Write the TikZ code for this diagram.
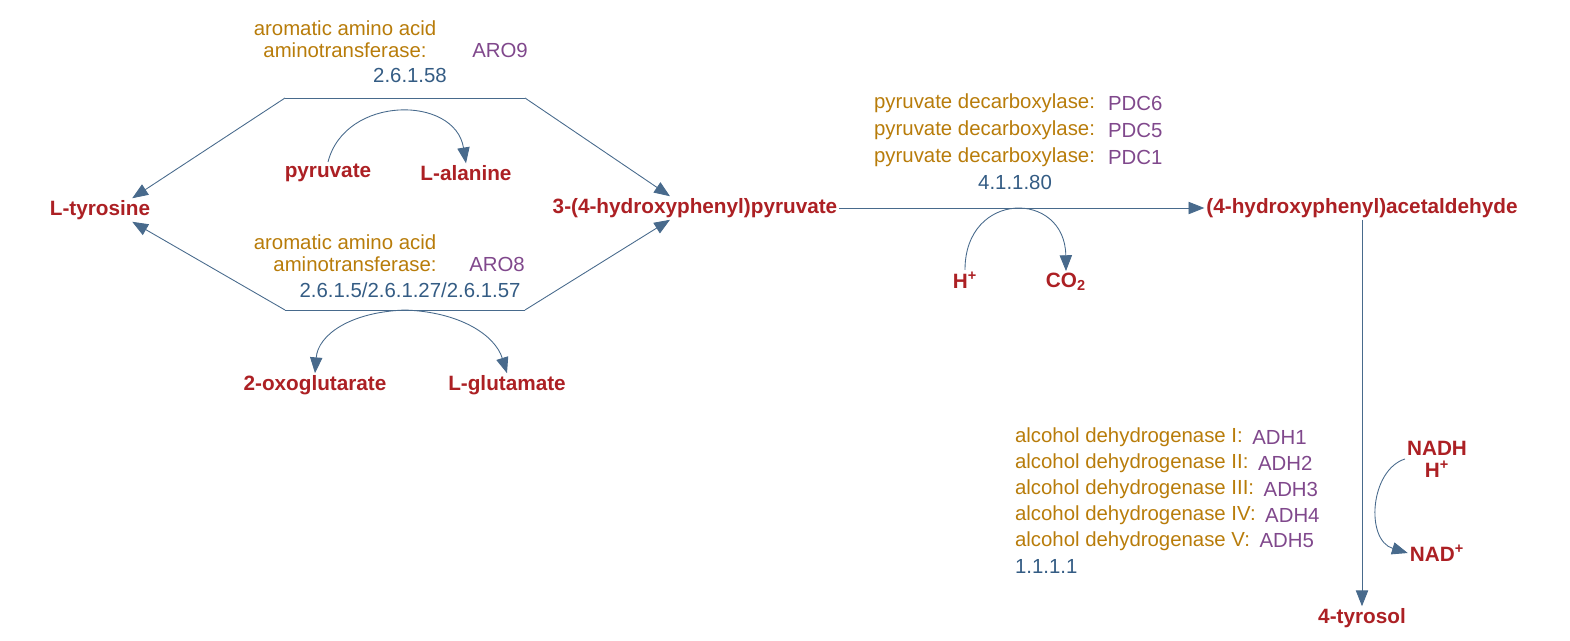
\documentclass[tikz,border=0pt]{standalone}
\usepackage{fontspec}
\setmainfont{Liberation Sans}
\usetikzlibrary{arrows.meta}
\definecolor{enzcol}{RGB}{184,124,10}
\definecolor{genecol}{RGB}{128,72,140}
\definecolor{eccol}{RGB}{52,92,132}
\definecolor{cpdcol}{RGB}{172,32,36}
\definecolor{rxncol}{RGB}{72,106,140}
\tikzset{
  cpd/.style={text=cpdcol, font=\fontsize{11.8}{12.5}\selectfont\bfseries, inner sep=1pt},
  enz/.style={text=enzcol, font=\fontsize{11.6}{13}\selectfont, inner sep=1pt},
  gene/.style={text=genecol, font=\fontsize{11.6}{13}\selectfont, inner sep=1pt},
  ec/.style={text=eccol, font=\fontsize{11.6}{13}\selectfont, inner sep=1pt},
  rxn/.style={draw=rxncol, line width=0.5pt},
  tip/.style={-{Triangle[length=9pt,width=7pt,fill=rxncol]}}
}
\begin{document}
\begin{tikzpicture}[x=0.02cm,y=-0.02cm]
\useasboundingbox (0,0) rectangle (1570,640);

% compounds
\node[cpd] (tyr) at (100,210) {L-tyrosine};
\node[cpd] (hpp) at (695,208) {3-(4-hydroxyphenyl)pyruvate};
\node[cpd] (hpa) at (1362,208) {(4-hydroxyphenyl)acetaldehyde};
\node[cpd] (tol) at (1362,618) {4-tyrosol};
\node[cpd] (pyr) at (328,173) {pyruvate};
\node[cpd] (ala) at (466,173) {L-alanine};
\node[cpd] (oxo) at (315,385) {2-oxoglutarate};
\node[cpd] (glu) at (507,385) {L-glutamate};
\node[cpd] (hp) at (965,280) {H\textsuperscript{+}};
\node[cpd] (co2) at (1066,282) {CO\textsubscript{2}};
\node[cpd, align=center] (nadh) at (1437,459) {NADH\\H\textsuperscript{+}};
\node[cpd] (nad) at (1437,553) {NAD\textsuperscript{+}};

% ARO9
\node[enz] (e1a) at (345,28) {aromatic amino acid};
\node[enz] (e1b) at (345,50) {aminotransferase:};
\node[gene] (g1) at (500,50) {ARO9};
\node[ec] (ec1) at (410,75) {2.6.1.58};
% ARO8
\node[enz] (e2a) at (345,242) {aromatic amino acid};
\node[enz] (e2b) at (355,264) {aminotransferase:};
\node[gene] (g2) at (497,264) {ARO8};
\node[ec] (ec2) at (410,290) {2.6.1.5/2.6.1.27/2.6.1.57};
% PDC
\foreach \i/\g/\y in {1/PDC6/103,2/PDC5/130,3/PDC1/157}{
  \node[enz, anchor=west] (p\i) at (872,\y) {pyruvate decarboxylase:};
  \node[gene, anchor=west] (pg\i) at (1106,\y) {\g};
}
\node[ec] (ec3) at (1015,182) {4.1.1.80};
% ADH
\foreach \i/\r/\y in {1/I/437,2/II/463,3/III/489,4/IV/515,5/V/541}{
  \node[enz, anchor=west] (a\i) at (1013,\y) {alcohol dehydrogenase \r:};
  \node[gene, anchor=west, xshift=3pt] (ag\i) at (a\i.east) {ADH\i};
}
\node[ec, anchor=west] (ec4) at (1013,566) {1.1.1.1};

% hexagon
\coordinate (tl) at (285,98);
\coordinate (tr) at (525,98);
\coordinate (bl) at (285,310);
\coordinate (br) at (525,310);
\draw[rxn] (tl) -- (tr);
\draw[rxn] (bl) -- (br);
\draw[rxn, tip] (tl) -- ([xshift=-0.4cm]tyr.north east);
\draw[rxn, tip] (tr) -- ([xshift=-0.5cm]hpp.north);
\draw[rxn, tip] (bl) -- ([xshift=-0.4cm]tyr.south east);
\draw[rxn, tip] (br) -- ([xshift=-0.5cm]hpp.south);
\draw[rxn, tip] (pyr.north) .. controls (345,95) and (455,95) .. (ala.north);
\draw[rxn, tip] (405,310) .. controls (350,312) and (318,335) .. (oxo.north);
\draw[rxn, tip] (405,310) .. controls (460,312) and (495,335) .. (glu.north);

% decarboxylation
\draw[rxn, tip] (hpp.east) -- (hpa.west);
\draw[rxn, tip] (hp.north) .. controls (965,190) and (1065,190) .. (co2.north);

% reduction
\draw[rxn, tip] (hpa.south) -- (tol.north);
\draw[rxn, tip] (nadh.west) .. controls (1370,470) and (1365,540) .. (nad.west);
\end{tikzpicture}
\end{document}
